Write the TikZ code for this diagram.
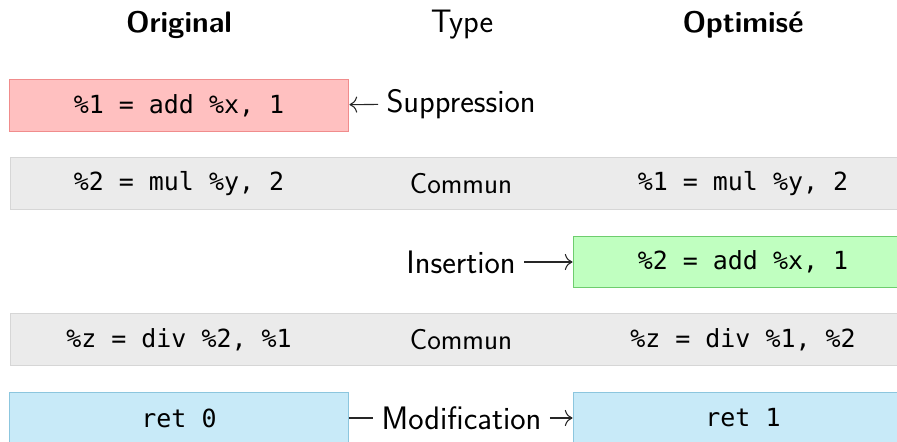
\documentclass[tikz,border=0pt]{standalone}
\usepackage{fontspec}
\setmonofont{DejaVu Sans Mono}
\usetikzlibrary{positioning,arrows.meta}

\definecolor{delfill}{RGB}{255,192,192}
\definecolor{deldraw}{RGB}{240,140,140}
\definecolor{insfill}{RGB}{192,255,192}
\definecolor{insdraw}{RGB}{110,205,110}
\definecolor{modfill}{RGB}{200,234,248}
\definecolor{moddraw}{RGB}{140,198,222}
\definecolor{rowfill}{RGB}{235,235,235}
\definecolor{rowdraw}{RGB}{214,214,214}

\begin{document}
\begin{tikzpicture}[x=0.02cm, y=-0.02cm,
  every node/.style={font=\sffamily\fontsize{18.5}{22}\selectfont},
  head/.style={font=\sffamily\bfseries\fontsize{16.9}{20}\selectfont},
  same/.style={font=\sffamily\fontsize{16.5}{20}\selectfont},
  kind/.style={outer sep=1.5pt},
  code/.style={font=\ttfamily\fontsize{14.2}{17}\selectfont},
  box/.style={line width=0.6pt, minimum width=6.8cm, minimum height=1.03cm},
  delbox/.style={box, draw=deldraw, fill=delfill, code},
  insbox/.style={box, draw=insdraw, fill=insfill, code},
  modbox/.style={box, draw=moddraw, fill=modfill, code},
  rowbox/.style={line width=0.6pt, draw=rowdraw, fill=rowfill, minimum width=18cm, minimum height=1.03cm},
  link/.style={line width=0.6pt, draw=black!85, -{To[scale=1.5]}}]
\clip (0,0) rectangle (897,441);
% column heads
\node[head] (hOrig) at (179,25) {Original};
\node (hType) at (462,25) {Type};
\node[head] (hOpt) at (743,25) {Optimisé};
% rows
\node[delbox] (del) at (179,105.5) {\%1 = add \%x, 1};
\node[kind] (tSupp) at (461,104) {Suppression};
\draw[link] (tSupp) -- (del);

\node[rowbox] (row2) at (460,183.5) {};
\node[code] (o2) at (179,183.5) {\%2 = mul \%y, 2};
\node[same] (t2) at (461,184) {Commun};
\node[code] (n2) at (743,183.5) {\%1 = mul \%y, 2};

\node[insbox] (ins) at (743,262) {\%2 = add \%x, 1};
\node[kind] (tIns) at (461,262) {Insertion};
\draw[link] (tIns) -- (ins);

\node[rowbox] (row4) at (460,339.5) {};
\node[code] (o4) at (179,339.5) {\%z = div \%2, \%1};
\node[same] (t4) at (461,340) {Commun};
\node[code] (n4) at (743,339.5) {\%z = div \%1, \%2};

\node[modbox] (mod0) at (179,418) {ret 0};
\node[modbox] (mod1) at (743,418) {ret 1};
\node[kind] (tMod) at (461.5,418) {Modification};
\draw[link,-] (mod0) -- (tMod);
\draw[link] (tMod) -- (mod1);
\end{tikzpicture}
\end{document}
